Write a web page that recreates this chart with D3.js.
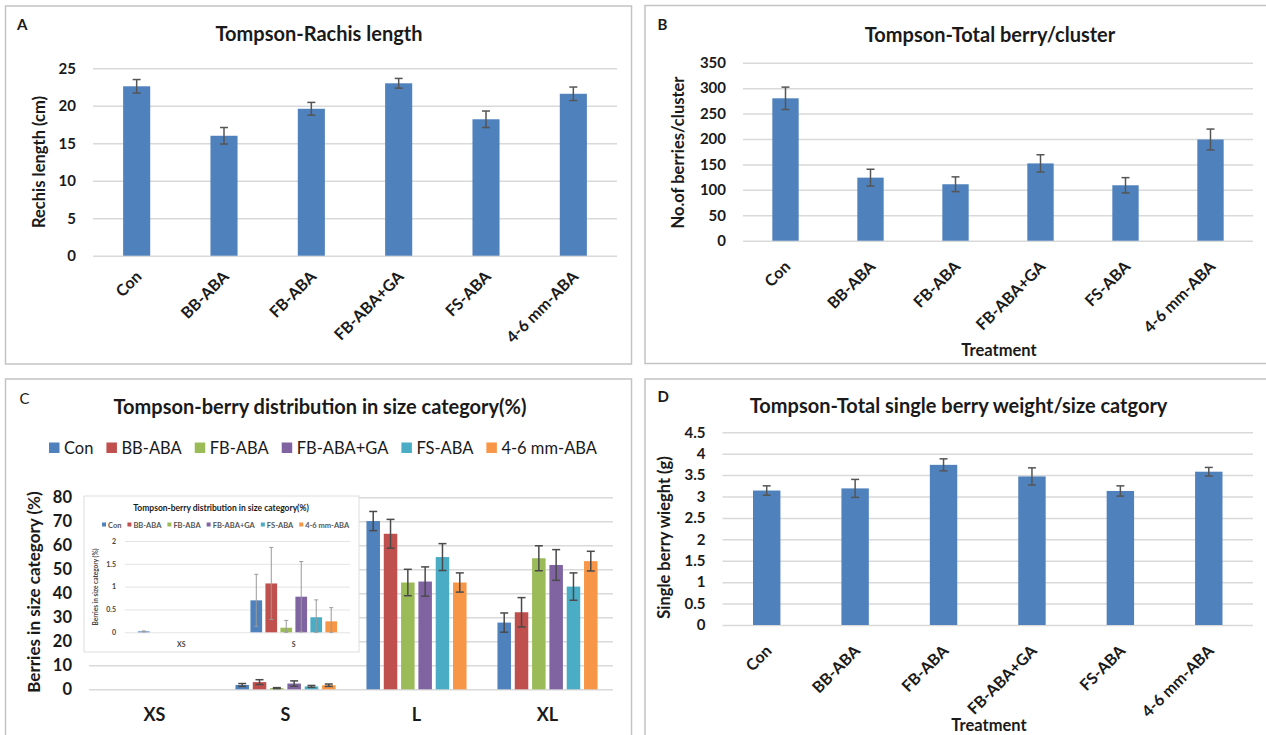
<!DOCTYPE html>
<html>
<head>
<meta charset="utf-8">
<script src="https://cdn.jsdelivr.net/npm/d3@7"></script>
<style>
  html, body { margin: 0; padding: 0; background: #fff; }
  svg { display: block; font-family: Lato, "Open Sans", sans-serif; }
</style>
</head>
<body>
<svg id="fig" width="1266" height="735"></svg>
<script>
// ---------- data ----------
const treatments = ["Con", "BB-ABA", "FB-ABA", "FB-ABA+GA", "FS-ABA", "4-6 mm-ABA"];

// A: rachis length (cm)
const rachisLength = [22.6, 16.0, 19.6, 23.0, 18.2, 21.6];
const rachisErr    = [0.9, 1.1, 0.85, 0.65, 1.1, 0.9];
const rachisTicks  = [0, 5, 10, 15, 20, 25];

// B: berries per cluster
const berriesPerCluster = [280, 124, 111, 152, 109, 199];
const berriesErr        = [22, 16.5, 14.5, 17, 15, 20.5];
const berriesTicks      = [0, 50, 100, 150, 200, 250, 300, 350];

// D: single berry weight (g)
const berryWeight = [3.14, 3.19, 3.74, 3.47, 3.13, 3.58];
const weightErr   = [0.11, 0.21, 0.14, 0.2, 0.12, 0.1];
const weightTicks = [0, 0.5, 1, 1.5, 2, 2.5, 3, 3.5, 4, 4.5];

// C: berry distribution in size category (%), one array per treatment
const sizeCats = ["XS", "S", "L", "XL"];
const distCon  = [0, 1.8, 70.1, 27.8];
const distBB   = [0, 3.0, 64.8, 32.1];
const distFB   = [0, 0.5, 44.5, 54.6];
const distFBGA = [0, 2.4, 44.9, 51.8];
const distFS   = [0, 1.2, 55.1, 42.8];
const distMM   = [0, 1.7, 44.5, 53.4];
const errCon   = [0, 0.6, 4.0, 4.0];
const errBB    = [0, 1.0, 6.0, 6.1];
const errFB    = [0, 0.2, 5.5, 5.2];
const errFBGA  = [0, 1.1, 6.1, 6.4];
const errFS    = [0, 0.4, 5.6, 5.7];
const errMM    = [0, 0.5, 4.0, 4.1];
const distTicks = [0, 10, 20, 30, 40, 50, 60, 70, 80];

// C inset: XS and S categories only
const insetCats  = ["XS", "S"];
const insetCon   = [0.02, 0.70];
const insetBB    = [0, 1.07];
const insetFB    = [0, 0.10];
const insetFBGA  = [0, 0.78];
const insetFS    = [0, 0.33];
const insetMM    = [0, 0.24];
const insetErrCon  = [0.01, 0.57];
const insetErrBB   = [0, 0.79];
const insetErrFB   = [0, 0.16];
const insetErrFBGA = [0, 0.77];
const insetErrFS   = [0, 0.38];
const insetErrMM   = [0, 0.30];
const insetTicks = [0, 0.5, 1, 1.5, 2];

// ---------- styling ----------
const FONT = "Lato, 'Open Sans', sans-serif";
const BAR_BLUE = "#4f81bd";
const seriesColors = ["#4f81bd", "#c0504d", "#9bbb59", "#8064a2", "#4bacc6", "#f79646"];
const GRID = "#d9d9d9";
const TEXT = "#1a1a1a";
const ERR = "#555";

const svg = d3.select("#fig");
svg.append("rect").attr("width", 1266).attr("height", 735).attr("fill", "#fff");

const fmt = d3.format("~g");

function measure(text, size, weight) {
  const t = svg.append("text").attr("font-family", FONT).attr("font-size", size)
    .attr("font-weight", weight).text(text);
  const w = t.node().getComputedTextLength();
  t.remove();
  return w;
}

function frame(x0, y0, x1, y1) {
  svg.append("rect").attr("x", x0).attr("y", y0).attr("width", x1 - x0).attr("height", y1 - y0)
    .attr("fill", "#fff").attr("stroke", "#c4c4c4").attr("stroke-width", 1.5);
}

function label(g, txt, x, y, size, weight, anchor, rot) {
  const t = g.append("text").attr("font-family", FONT).attr("font-size", size)
    .attr("font-weight", weight).attr("fill", TEXT).attr("text-anchor", anchor || "start").text(txt);
  if (rot) t.attr("transform", `translate(${x},${y}) rotate(${rot})`).attr("dy", "0.35em");
  else t.attr("x", x).attr("y", y);
  return t;
}

function valueAxis(g, y, ticks, left, right, size, pad, lineW) {
  const ax = g.append("g").attr("transform", `translate(${left},0)`)
    .call(d3.axisLeft(y).tickValues(ticks).tickSizeInner(-(right - left)).tickSizeOuter(0)
      .tickPadding(pad).tickFormat(fmt));
  ax.select(".domain").remove();
  ax.attr("font-family", FONT).attr("font-size", size).attr("font-weight", "bold");
  ax.selectAll(".tick line").attr("stroke", GRID).attr("stroke-width", lineW);
  ax.selectAll(".tick text").attr("fill", TEXT);
  return ax;
}

function errorBars(g, data, color, width, cap) {
  g.selectAll(null).data(data.filter(d => d.e > 0)).join("g").each(function (d) {
    const s = d3.select(this);
    const lo = Math.max(0, d.v - d.e), hi = d.v + d.e;
    s.append("line").attr("x1", d.cx).attr("x2", d.cx).attr("y1", d.y(lo)).attr("y2", d.y(hi));
    s.append("line").attr("x1", d.cx - cap).attr("x2", d.cx + cap).attr("y1", d.y(hi)).attr("y2", d.y(hi));
    s.append("line").attr("x1", d.cx - cap).attr("x2", d.cx + cap).attr("y1", d.y(lo)).attr("y2", d.y(lo));
  }).attr("stroke", color).attr("stroke-width", width);
}

// ---------- single-series bar panels (A, B, D) ----------
function singlePanel(cfg) {
  const g = svg.append("g");
  const x = d3.scaleBand().domain(treatments).range([cfg.left, cfg.right])
    .paddingInner(0.69).paddingOuter(0.345);
  const y = d3.scaleLinear().domain([0, cfg.ticks[cfg.ticks.length - 1]]).range([cfg.bottom, cfg.top]);

  valueAxis(g, y, cfg.ticks, cfg.left, cfg.right, 15, 17, 1.5);

  g.selectAll("rect.bar").data(cfg.values).join("rect").attr("class", "bar")
    .attr("x", (d, i) => x(treatments[i])).attr("width", x.bandwidth())
    .attr("y", d => y(d)).attr("height", d => y(0) - y(d)).attr("fill", BAR_BLUE);

  const eg = g.append("g");
  errorBars(eg, cfg.values.map((v, i) => ({ v, e: cfg.errs[i], y, cx: x(treatments[i]) + x.bandwidth() / 2 })),
    ERR, 1.5, 4);

  // rotated category labels
  treatments.forEach(t => {
    g.append("text").attr("font-family", FONT).attr("font-size", 16).attr("font-weight", "bold")
      .attr("fill", TEXT).attr("text-anchor", "end").attr("dy", "0.35em")
      .attr("transform", `translate(${x(t) + x.bandwidth() / 2 + 2},${cfg.bottom + cfg.labelOff}) rotate(-45)`)
      .text(t);
  });

  label(g, cfg.panel, cfg.panelX, cfg.panelY, 15, "bold");
  label(g, cfg.title, cfg.titleX, cfg.titleY, 20, "bold", "middle");
  label(g, cfg.yTitle, cfg.yTitleX, cfg.yTitleY, 16.5, "bold", "middle", -90);
  if (cfg.xTitle) label(g, cfg.xTitle, cfg.xTitleX, cfg.xTitleY, 16.5, "bold", "middle");
}

// panel frames
frame(5.5, 6, 631.5, 364);
frame(645, 5.5, 1272, 363.5);
frame(5.5, 379, 631.5, 742);
frame(645, 379, 1272, 742);

singlePanel({
  values: rachisLength, errs: rachisErr, ticks: rachisTicks,
  left: 93, right: 617, top: 68.3, bottom: 255.7, labelOff: 18,
  panel: "A", panelX: 17, panelY: 29.5,
  title: "Tompson-Rachis length", titleX: 319, titleY: 40.5,
  yTitle: "Rechis length (cm)", yTitleX: 39.5, yTitleY: 162
});

singlePanel({
  values: berriesPerCluster, errs: berriesErr, ticks: berriesTicks,
  left: 743, right: 1253, top: 62.7, bottom: 240.7, labelOff: 23,
  panel: "B", panelX: 657.5, panelY: 29.5,
  title: "Tompson-Total berry/cluster", titleX: 990, titleY: 41.5,
  yTitle: "No.of berries/cluster", yTitleX: 678, yTitleY: 152.5,
  xTitle: "Treatment", xTitleX: 999, xTitleY: 356
});

singlePanel({
  values: berryWeight, errs: weightErr, ticks: weightTicks,
  left: 722.5, right: 1253, top: 432.3, bottom: 625, labelOff: 23,
  panel: "D", panelX: 657.5, panelY: 401.5,
  title: "Tompson-Total single berry weight/size catgory", titleX: 958.6, titleY: 413.3,
  yTitle: "Single berry wieght (g)", yTitleX: 664.5, yTitleY: 537.5,
  xTitle: "Treatment", xTitleX: 989, xTitleY: 731
});

// ---------- panel C: grouped bars with inset ----------
(function () {
  const g = svg.append("g");
  const dist = [distCon, distBB, distFB, distFBGA, distFS, distMM];
  const errs = [errCon, errBB, errFB, errFBGA, errFS, errMM];
  const left = 89, right = 613, top = 497.3, bottom = 689.3;

  const x0 = d3.scaleBand().domain(sizeCats).range([left, right]);
  const bw = x0.bandwidth();
  const x1 = d3.scaleBand().domain(treatments).range([bw * 0.118, bw * 0.882]).paddingInner(0.22);
  const y = d3.scaleLinear().domain([0, 80]).range([bottom, top]);

  valueAxis(g, y, distTicks, left, right, 16.5, 17, 1.5);

  // ---- inset chart (XS / S detail) ----
  const ig = g.append("g");
  ig.append("rect").attr("x", 84).attr("y", 496).attr("width", 275).attr("height", 156)
    .attr("fill", "#fff").attr("stroke", "#dedede").attr("stroke-width", 1);
  const il = 125, ir = 350, it = 541, ib = 632.3;
  const ix0 = d3.scaleBand().domain(insetCats).range([il, ir]);
  const ibw = ix0.bandwidth();
  const ix1 = d3.scaleBand().domain(treatments).range([ibw * 0.115, ibw * 0.885]).paddingInner(0.22);
  const iy = d3.scaleLinear().domain([0, 2]).range([ib, it]);
  const iax = valueAxis(ig, iy, insetTicks, il, ir, 7, 9, 1);
  iax.selectAll(".tick line").attr("stroke", "#e3e3e3");
  iax.selectAll(".tick text").attr("fill", "#444");

  const insetVals = [insetCon, insetBB, insetFB, insetFBGA, insetFS, insetMM];
  const insetErrs = [insetErrCon, insetErrBB, insetErrFB, insetErrFBGA, insetErrFS, insetErrMM];
  const iflat = [];
  treatments.forEach((t, si) => insetCats.forEach((c, ci) =>
    iflat.push({ t, c, v: insetVals[si][ci], e: insetErrs[si][ci], color: seriesColors[si] })));
  ig.selectAll("rect.ibar").data(iflat).join("rect").attr("class", "ibar")
    .attr("x", d => ix0(d.c) + ix1(d.t)).attr("width", ix1.bandwidth())
    .attr("y", d => iy(d.v)).attr("height", d => iy(0) - iy(d.v)).attr("fill", d => d.color);
  errorBars(ig.append("g"), iflat.map(d => ({ v: d.v, e: d.e, y: iy, cx: ix0(d.c) + ix1(d.t) + ix1.bandwidth() / 2 })),
    "#9a9a9a", 1, 2);

  insetCats.forEach(c => {
    ig.append("text").attr("font-family", FONT).attr("font-size", 7).attr("font-weight", "bold")
      .attr("fill", "#444").attr("text-anchor", "middle")
      .attr("x", ix0(c) + ibw / 2).attr("y", 646.5).text(c);
  });
  label(ig, "Tompson-berry distribution in size category(%)", 221, 511, 8.5, "bold", "middle");
  label(ig, "Berries in size category (%)", 96, 587, 6.5, "bold", "middle", -90).attr("fill", "#444");

  // inset legend
  let lx = 102;
  treatments.forEach((t, i) => {
    ig.append("rect").attr("x", lx).attr("y", 522.5).attr("width", 4).attr("height", 4).attr("fill", seriesColors[i]);
    ig.append("text").attr("font-family", FONT).attr("font-size", 7.5).attr("font-weight", "bold")
      .attr("fill", "#555").attr("x", lx + 6).attr("y", 527.5).text(t);
    lx += 6 + measure(t, 7.5, "bold") + 6;
  });

  // ---- main bars ----
  const flat = [];
  treatments.forEach((t, si) => sizeCats.forEach((c, ci) =>
    flat.push({ t, c, v: dist[si][ci], e: errs[si][ci], color: seriesColors[si] })));
  g.selectAll("rect.cbar").data(flat.filter(d => d.v > 0)).join("rect").attr("class", "cbar")
    .attr("x", d => x0(d.c) + x1(d.t)).attr("width", x1.bandwidth())
    .attr("y", d => y(d.v)).attr("height", d => y(0) - y(d.v)).attr("fill", d => d.color);
  errorBars(g.append("g"), flat.map(d => ({ v: d.v, e: d.e, y, cx: x0(d.c) + x1(d.t) + x1.bandwidth() / 2 })),
    "#4a4a4a", 1.5, 4);

  sizeCats.forEach(c => {
    g.append("text").attr("font-family", FONT).attr("font-size", 18).attr("font-weight", "bold")
      .attr("fill", TEXT).attr("text-anchor", "middle")
      .attr("x", x0(c) + bw / 2).attr("y", 720.5).text(c);
  });

  // main legend
  let mx = 49;
  treatments.forEach((t, i) => {
    g.append("rect").attr("x", mx).attr("y", 442.5).attr("width", 10.5).attr("height", 10.5).attr("fill", seriesColors[i]);
    g.append("text").attr("font-family", FONT).attr("font-size", 16.5).attr("fill", TEXT)
      .attr("x", mx + 15).attr("y", 453.5).text(t);
    mx += 15 + measure(t, 16.5, "normal") + 13;
  });

  label(g, "C", 19.5, 403.5, 15, "normal");
  label(g, "Tompson-berry distribution in size category(%)", 320, 414, 20, "bold", "middle");
  label(g, "Berries in size category (%)", 34.5, 592, 17, "bold", "middle", -90);
})();
</script>
</body>
</html>
